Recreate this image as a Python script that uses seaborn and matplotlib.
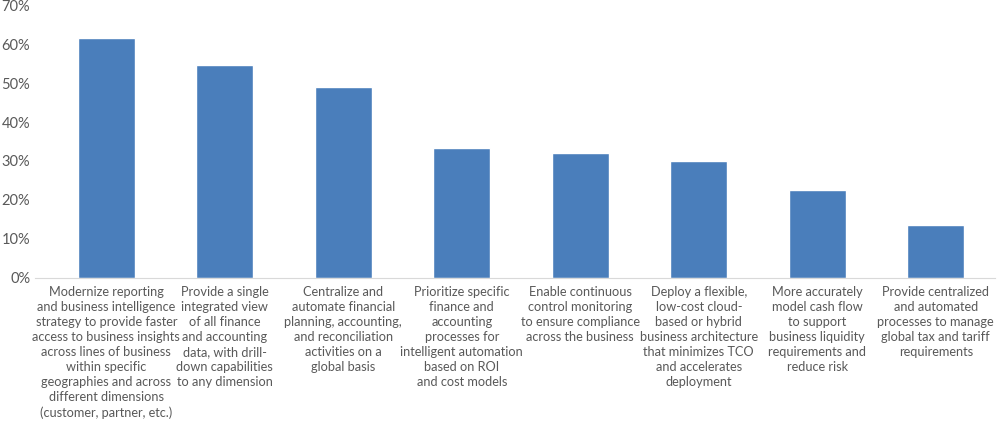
import pandas as pd
import seaborn as sns
import matplotlib.pyplot as plt
from matplotlib.ticker import PercentFormatter

# Survey priorities (share of respondents, %)
labels = [
    "Modernize reporting\nand business intelligence\nstrategy to provide faster\naccess to business insights\nacross lines of business\nwithin specific\ngeographies and across\ndifferent dimensions\n(customer, partner, etc.)",
    "Provide a single\nintegrated view\nof all finance\nand accounting\ndata, with drill-\ndown capabilities\nto any dimension",
    "Centralize and\nautomate financial\nplanning, accounting,\nand reconciliation\nactivities on a\nglobal basis",
    "Prioritize specific\nfinance and\naccounting\nprocesses for\nintelligent automation\nbased on ROI\nand cost models",
    "Enable continuous\ncontrol monitoring\nto ensure compliance\nacross the business",
    "Deploy a flexible,\nlow-cost cloud-\nbased or hybrid\nbusiness architecture\nthat minimizes TCO\nand accelerates\ndeployment",
    "More accurately\nmodel cash flow\nto support\nbusiness liquidity\nrequirements and\nreduce risk",
    "Provide centralized\nand automated\nprocesses to manage\nglobal tax and tariff\nrequirements",
]
values = [61.5, 54.7, 49.1, 33.4, 32.0, 30.0, 22.6, 13.7]

df = pd.DataFrame({"priority": labels, "share": values})

sns.set_style("white")
plt.rcParams["font.family"] = ["Lato", "DejaVu Sans"]

fig = plt.figure(figsize=(10, 4.23), dpi=100)
ax = fig.add_axes([0.047, 0.343, 0.948, 0.645])

sns.barplot(data=df, x="priority", y="share", color="#4a7ebb", width=0.48,
            saturation=1, ax=ax)

ax.set_ylim(0, 70)
ax.set_yticks(range(0, 71, 10))
ax.yaxis.set_major_formatter(PercentFormatter(decimals=0))
ax.set_xlabel("")
ax.set_ylabel("")

for side in ["top", "right", "left"]:
    ax.spines[side].set_visible(False)
ax.spines["bottom"].set_color("#d9d9d9")
ax.spines["bottom"].set_bounds(-0.6, 7.5)
ax.set_xlim(-0.5, 7.5)

ax.tick_params(axis="both", length=0, colors="#595959", labelsize=9.2)
ax.tick_params(axis="y", labelsize=10.5, pad=12)
ax.tick_params(axis="x", pad=6)
for t in ax.get_xticklabels():
    t.set_linespacing(1.3)
    t.set_va("top")

fig.savefig("out.png", dpi=100)
plt.close(fig)
